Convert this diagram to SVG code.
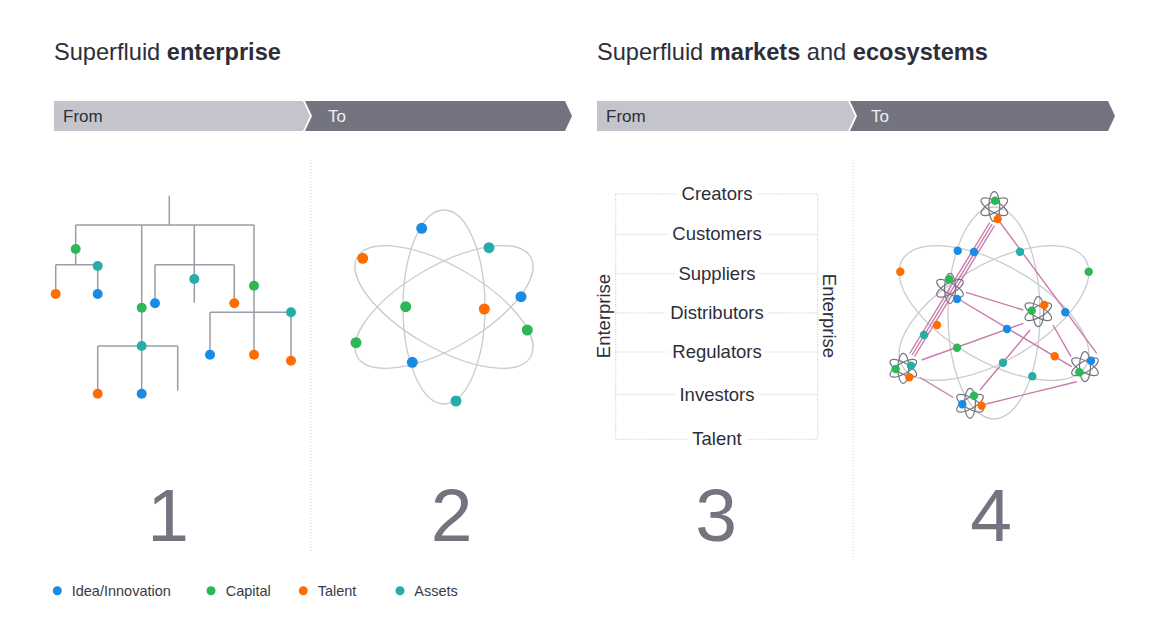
<svg xmlns="http://www.w3.org/2000/svg" xmlns:xlink="http://www.w3.org/1999/xlink" width="1170" height="630" viewBox="0 0 1170 630">
<style>
.hd{font-family:"Liberation Sans",Arial,sans-serif;font-size:23.6px;fill:#2e2e38}
.b{font-weight:bold}
.from{font-family:"Liberation Sans",Arial,sans-serif;font-size:17px;fill:#2e2e38}
.to{font-family:"Liberation Sans",Arial,sans-serif;font-size:17px;fill:#f0f0f2}
.num{font-family:"Liberation Sans",Arial,sans-serif;font-size:75px;fill:#747480;text-anchor:middle}
.lbl{font-family:"Liberation Sans",Arial,sans-serif;font-size:18.5px;fill:#2e2e38;text-anchor:middle}
.leg{font-family:"Liberation Sans",Arial,sans-serif;font-size:14.5px;fill:#3a3a45}
.div{stroke:#d4d4d8;stroke-width:1;stroke-dasharray:1 2;fill:none}
.dot{stroke:#c4c4ca;stroke-width:1;stroke-dasharray:1 1.5;fill:none}
.tree{stroke:#9c9ca6;stroke-width:1.5;fill:none}
.orb{stroke:#cbcbd0;stroke-width:1.3;fill:none}
.mini{stroke:#747480;stroke-width:1.2;fill:none}
.pk{stroke:#c97bab;stroke-width:1.4;fill:none}
.bl{fill:#188ce5}.gr{fill:#2db757}.or{fill:#ff6d00}.te{fill:#27acaa}
</style>
<defs>
<g id="miniAtom">
<ellipse class="mini" rx="15" ry="5.5" transform="rotate(90)"/>
<ellipse class="mini" rx="15" ry="5.5" transform="rotate(30)"/>
<ellipse class="mini" rx="15" ry="5.5" transform="rotate(-30)"/>
</g>
</defs>
<rect width="1170" height="630" fill="#ffffff"/>

<g id="headers">
<text class="hd" x="54" y="59.5">Superfluid <tspan class="b">enterprise</tspan></text>
<text class="hd" x="597" y="59.5">Superfluid <tspan class="b">markets</tspan> and <tspan class="b">ecosystems</tspan></text>
</g>

<g id="bars">
<path d="M54,101 H303 L310,116 L303,131 H54 Z" fill="#c4c4cd"/>
<path d="M305,101 H565 L572,116 L565,131 H305 L312,116 Z" fill="#747480"/>
<text class="from" x="63" y="122">From</text>
<text class="to" x="328" y="122">To</text>
<path d="M597,101 H848 L855,116 L848,131 H597 Z" fill="#c4c4cd"/>
<path d="M850,101 H1108 L1115,116 L1108,131 H850 L857,116 Z" fill="#747480"/>
<text class="from" x="606" y="122">From</text>
<text class="to" x="871" y="122">To</text>
</g>

<g id="dividers">
<line class="div" x1="311" y1="160" x2="311" y2="553"/>
<line class="div" x1="853" y1="160" x2="853" y2="557"/>
</g>

<g id="panel1">
<g id="panel1-connectors" class="tree">
<path d="M169.3,195.7 V225 M75.7,225 H254 M75.7,225 V264.7 M141.7,225 V346 M194.3,225 V302.7 M254,225 V354.7"/>
<path d="M55.7,264.7 H97.7 M55.7,264.7 V294 M97.7,264.7 V294"/>
<path d="M155,264.7 H234.3 M155,264.7 V303.3 M234.3,264.7 V303.3"/>
<path d="M210,312.3 H291 M210,312.3 V354.7 M291,312.3 V360.7"/>
<path d="M97.7,346 H177.7 M97.7,346 V393.7 M141.7,346 V393.7 M177.7,346 V390.7"/>
</g>
<g id="panel1-nodes">
<circle class="gr" cx="75.7" cy="249" r="5"/>
<circle class="te" cx="97.7" cy="266" r="5"/>
<circle class="or" cx="55.7" cy="294" r="5"/>
<circle class="bl" cx="97.7" cy="294" r="5"/>
<circle class="te" cx="194.3" cy="279" r="5"/>
<circle class="bl" cx="155" cy="303.3" r="5"/>
<circle class="or" cx="234.3" cy="303.3" r="5"/>
<circle class="gr" cx="254" cy="285.7" r="5"/>
<circle class="gr" cx="141.7" cy="307.7" r="5"/>
<circle class="te" cx="291" cy="312.3" r="5"/>
<circle class="bl" cx="210" cy="354.7" r="5"/>
<circle class="or" cx="254" cy="354.7" r="5"/>
<circle class="or" cx="291" cy="360.7" r="5"/>
<circle class="te" cx="141.7" cy="346" r="5"/>
<circle class="or" cx="97.7" cy="393.7" r="5"/>
<circle class="bl" cx="141.7" cy="393.7" r="5"/>
</g>
</g>

<g id="panel2">
<g id="panel2-orbits" transform="translate(444 307)">
<ellipse class="orb" rx="100" ry="41" transform="rotate(30)"/>
<ellipse class="orb" rx="100" ry="41" transform="rotate(-30)"/>
<ellipse class="orb" rx="41" ry="97"/>
</g>
<g id="panel2-nodes">
<circle class="bl" cx="421.7" cy="228.3" r="5.5"/>
<circle class="te" cx="489" cy="247.7" r="5.5"/>
<circle class="or" cx="362.7" cy="258.3" r="5.5"/>
<circle class="bl" cx="521" cy="296.7" r="5.5"/>
<circle class="gr" cx="405.7" cy="306.7" r="5.5"/>
<circle class="or" cx="484.3" cy="309" r="5.5"/>
<circle class="gr" cx="527.3" cy="330" r="5.5"/>
<circle class="gr" cx="356" cy="342.7" r="5.5"/>
<circle class="bl" cx="412.3" cy="362.3" r="5.5"/>
<circle class="te" cx="456" cy="401" r="5.5"/>
</g>
</g>

<g id="panel3">
<g id="panel3-lines" class="dot">
<path d="M615.7,194 V439.3 M817.7,194 V439.3"/>
<path d="M615.7,194 H817.7 M615.7,234.3 H817.7 M615.7,273.7 H817.7 M615.7,313 H817.7 M615.7,352 H817.7 M615.7,394.3 H817.7 M615.7,439.3 H817.7"/>
</g>
<g id="panel3-labels">
<rect x="677.5" y="186" width="79" height="16" fill="#fff"/>
<text class="lbl" x="717" y="200">Creators</text>
<rect x="668.3" y="226.3" width="97.4" height="16" fill="#fff"/>
<text class="lbl" x="717" y="240.3">Customers</text>
<rect x="674.5" y="265.7" width="85" height="16" fill="#fff"/>
<text class="lbl" x="717" y="279.6">Suppliers</text>
<rect x="666.2" y="305" width="101.6" height="16" fill="#fff"/>
<text class="lbl" x="717" y="319">Distributors</text>
<rect x="668.3" y="344" width="97.4" height="16" fill="#fff"/>
<text class="lbl" x="717" y="358.3">Regulators</text>
<rect x="675.5" y="386.3" width="83" height="16" fill="#fff"/>
<text class="lbl" x="717" y="400.5">Investors</text>
<rect x="687.3" y="431.3" width="59.4" height="16" fill="#fff"/>
<text class="lbl" x="717" y="444.5">Talent</text>
<text class="lbl" font-size="18px" transform="translate(610 316) rotate(-90)">Enterprise</text>
<text class="lbl" font-size="18px" transform="translate(823.3 316) rotate(90)">Enterprise</text>
</g>
</g>

<g id="panel4">
<g id="panel4-orbits" transform="translate(994 313)">
<ellipse class="orb" rx="106" ry="48" transform="rotate(30)"/>
<ellipse class="orb" rx="106" ry="48" transform="rotate(-30)"/>
<ellipse class="orb" rx="46" ry="106"/>
</g>
<g id="panel4-connectors" class="pk">
<line x1="992.2" y1="224" x2="912.1" y2="355"/>
<line x1="994.6" y1="225.5" x2="914.5" y2="356.5"/>
<line x1="989.8" y1="222.5" x2="909.7" y2="353.5"/>
<line x1="998.3" y1="220" x2="1096.7" y2="353.3"/>
<line x1="966" y1="292.3" x2="1023.3" y2="310"/>
<line x1="960" y1="300" x2="1071.7" y2="366.7"/>
<line x1="921.7" y1="360" x2="1023.3" y2="323.3"/>
<line x1="980" y1="390" x2="1030" y2="330"/>
<line x1="920" y1="377.5" x2="953.3" y2="397.5"/>
<line x1="986" y1="404" x2="1076.7" y2="381.7"/>
<line x1="1053" y1="325" x2="1071" y2="356.7"/>
</g>
<g id="panel4-atoms">
<use xlink:href="#miniAtom" href="#miniAtom" x="994.3" y="206.7"/>
<use xlink:href="#miniAtom" href="#miniAtom" x="950" y="288.3"/>
<use xlink:href="#miniAtom" href="#miniAtom" x="1038.3" y="311.7"/>
<use xlink:href="#miniAtom" href="#miniAtom" x="903.3" y="368.3"/>
<use xlink:href="#miniAtom" href="#miniAtom" x="1085" y="366.7"/>
<use xlink:href="#miniAtom" href="#miniAtom" x="970" y="403.3"/>
</g>
<g id="panel4-nodes">
<circle class="gr" cx="995" cy="200.7" r="4.2"/>
<circle class="or" cx="997.7" cy="219" r="4.2"/>
<circle class="gr" cx="949" cy="279.3" r="4.2"/>
<circle class="bl" cx="957" cy="299" r="4.2"/>
<circle class="gr" cx="1031.7" cy="310.7" r="4.2"/>
<circle class="or" cx="1044.3" cy="305" r="4.2"/>
<circle class="gr" cx="895.7" cy="369" r="4.2"/>
<circle class="te" cx="911" cy="365.7" r="4.2"/>
<circle class="or" cx="909.3" cy="377.3" r="4.2"/>
<circle class="bl" cx="1091" cy="360.7" r="4.2"/>
<circle class="gr" cx="1079.3" cy="372.3" r="4.2"/>
<circle class="gr" cx="974" cy="395.7" r="4.2"/>
<circle class="bl" cx="962.3" cy="404.3" r="4.2"/>
<circle class="or" cx="981.7" cy="405.7" r="4.2"/>
<circle class="bl" cx="957.7" cy="250.7" r="4.2"/>
<circle class="bl" cx="974" cy="252" r="4.2"/>
<circle class="te" cx="1020" cy="251.7" r="4.2"/>
<circle class="or" cx="900.3" cy="271.7" r="4.2"/>
<circle class="gr" cx="1088.7" cy="271.7" r="4.2"/>
<circle class="or" cx="937" cy="325" r="4.2"/>
<circle class="te" cx="924" cy="335" r="4.2"/>
<circle class="gr" cx="957" cy="347.7" r="4.2"/>
<circle class="bl" cx="1007" cy="329" r="4.2"/>
<circle class="bl" cx="1065.3" cy="312.3" r="4.2"/>
<circle class="or" cx="1054.7" cy="356.3" r="4.2"/>
<circle class="te" cx="1003" cy="362.7" r="4.2"/>
<circle class="te" cx="1032.3" cy="376.3" r="4.2"/>
</g>
</g>

<g id="numbers">
<text class="num" x="168" y="541">1</text>
<text class="num" x="451.5" y="541">2</text>
<text class="num" x="716" y="541">3</text>
<text class="num" x="991" y="541">4</text>
</g>

<g id="legend">
<circle class="bl" cx="57.3" cy="590.7" r="4.5"/>
<text class="leg" x="71.7" y="596">Idea/Innovation</text>
<circle class="gr" cx="211" cy="590.7" r="4.5"/>
<text class="leg" x="225.7" y="596">Capital</text>
<circle class="or" cx="303.3" cy="590.7" r="4.5"/>
<text class="leg" x="317.7" y="596">Talent</text>
<circle class="te" cx="400" cy="590.7" r="4.5"/>
<text class="leg" x="414.3" y="596">Assets</text>
</g>
</svg>
